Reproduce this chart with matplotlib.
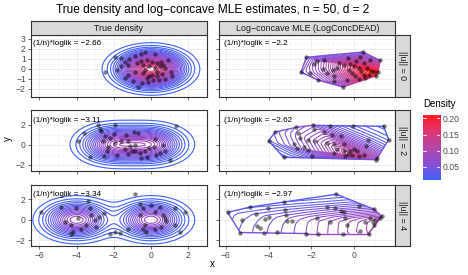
import numpy as np
import matplotlib
matplotlib.use("Agg")
import matplotlib.pyplot as plt
import matplotlib.tri as mtri
from matplotlib.colors import LinearSegmentedColormap, Normalize
from itertools import combinations

plt.rcParams['font.family'] = ['Liberation Sans', 'DejaVu Sans']

# ---- data ----
mu_norms = [0, 2, 4]
row_labels = ['||u|| = 0', '||u|| = 2', '||u|| = 4']
col_titles = ['True density', 'Log\u2212concave MLE (LogConcDEAD)']
loglik_true = ['\u22122.66', '\u22123.11', '\u22123.34']
loglik_mle = ['\u22122.2', '\u22122.62', '\u22122.97']

true_x0 = [-2.46, -1.92, -1.59, -1.63, -1.38, -1.24, -1.16, -0.88, -0.73, -0.52, -0.34, -0.41, -0.23, -0.13, 0.05,
           0.20, 0.23, 0.30, 0.47, 0.56, 0.65, 0.73, 0.91, 1.06, 1.13, 0.59, -0.09, 0.05, 0.30, 0.13, -0.16, -0.48,
           -0.70, -0.95, -1.24, -1.42, -0.43, 0.45, -0.30, -0.88, 0.73, 0.34, -0.56, -0.20, -1.81]
true_y0 = [-0.33, 1.20, 1.13, 0.27, 0.67, 0.37, 1.00, 1.27, 0.60, 1.53, 1.67, 0.40, 0.93, 0.27, 0.73,
           1.47, 0.13, -0.27, 0.27, 0.73, 0.40, 0.07, 0.93, -0.33, -0.67, -0.47, -0.67, -0.60, -0.73, -1.07, -1.33, -1.40,
           -1.80, -1.23, -0.60, -0.93, -0.40, -1.07, -0.07, -0.27, -1.00, 0.60, 0.80, -0.93, -0.13]

mle_x0 = [-2.48, -2.23, -1.89, -1.73, -1.45, -1.42, -0.98, -0.92, -0.72, -0.45, -0.30, -0.17, 0.02, 0.11, 0.22,
          0.30, 0.41, 0.45, 0.61, 0.77, 0.80, 0.69, 0.92, 1.05, 1.23, 1.13, 0.45, 0.33, 0.22, 0.06, -0.09, -0.33,
          -0.52, -0.95, -1.66, -1.27, -2.05, -0.80, 0.53, -0.25]
mle_y0 = [-0.33, 1.17, 0.53, 0.77, 0.00, 0.93, -0.07, -0.67, 0.60, 0.43, 1.10, 0.53, 0.27, 0.77, 0.10,
          1.17, 1.70, 0.60, 0.10, 0.93, -0.23, -0.57, -0.33, -0.67, 0.87, -0.33, -0.57, -0.23, -1.00, -0.73, -0.40, -1.07,
          -1.80, -1.23, -1.13, -0.40, -0.40, 0.10, -0.90, -0.07]

true_x2 = [-3.92, -3.60, -3.30, -2.85, -2.76, -2.67, -2.46, -2.58, -2.31, -2.22, -1.99, -1.92, -1.81, -2.35, -1.42,
           -1.33, -1.24, -1.15, -0.91, -0.70, -1.02, -0.84, -0.59, -0.52, -0.34, -0.20, -0.13, -0.88, -1.24, -1.59,
           0.16, 0.29, 0.47, 0.65, 0.74, 1.00, 1.36, 0.23, -1.95, -2.53]
true_y2 = [0.38, 1.15, -1.28, 1.98, 1.58, 1.32, 0.82, 0.32, -0.28, 0.65, 1.05, 1.98, -1.02, -0.62, -0.42,
           0.98, -0.95, -0.18, 1.25, 1.15, -0.62, -0.68, -0.88, -1.35, -0.62, -1.28, -0.35, -0.08, 0.32, 0.32,
           -0.28, -1.08, -0.85, -0.08, -0.62, -1.52, 1.82, 0.58, 0.15, -1.18]

mle_x2 = [-4.00, -3.69, -3.30, -2.70, -2.64, -2.52, -2.80, -2.67, -2.33, -2.17, -1.92, -1.89, -1.97, -1.81, -1.42,
          -1.11, -1.03, -0.92, -0.95, -0.48, -0.48, -0.44, -0.30, -0.20, -0.09, 0.02, 0.14, 0.22, 0.45, 0.58,
          0.64, 1.08, 1.05, 1.39, 1.63, -0.02, -0.61, -0.80, -1.27, -2.13]
mle_y2 = [0.38, 1.25, -1.28, 1.72, 1.15, 0.65, 0.05, -0.35, -0.28, -0.52, 1.92, 1.58, -1.12, 0.32, 1.25,
          1.82, 0.98, 0.05, -0.85, 0.05, -0.62, -1.18, -0.95, -0.62, -1.08, -0.42, -0.68, -1.18, -1.02, -0.18,
          0.48, -1.35, -1.52, 1.82, 0.48, 1.82, 0.82, -0.42, 0.15, 0.48]

true_x4 = [-5.90, -4.82, -4.28, -4.01, -3.92, -3.39, -3.30, -3.21, -3.48, -3.75, -4.19, -4.28, -2.94, -3.03, -2.81,
           -2.22, -1.92, -1.68, -0.84, -0.61, -0.43, -0.30, -0.25, -0.43, 0.02, 0.23, 0.47, 0.65, 0.74, 0.56,
           0.20, 1.27, 1.27, 1.81, 1.54, -1.24, -4.64, -2.53, 0.82, -0.61]
true_y4 = [0.72, 1.27, -0.52, 1.11, 0.13, 1.83, 1.11, 0.46, -0.52, -0.85, -1.18, -1.34, -0.69, -0.03, 0.29,
           -1.34, -1.18, -1.24, 2.48, 1.50, 1.11, -0.52, -1.18, -0.85, 1.44, 0.78, 1.27, 0.46, 0.13, -0.69,
           -0.85, -0.52, 1.11, 0.78, -1.18, -0.85, -0.20, 0.62, -0.13, 0.46]

mle_x4 = [-5.92, -5.33, -5.25, -4.86, -4.58, -4.52, -4.39, -4.23, -4.16, -4.05, -4.00, -3.61, -3.30, -3.22, -3.17,
          -3.14, -2.91, -2.23, -1.73, -1.66, -1.27, -0.88, -0.83, -0.61, -0.48, -0.41, -0.33, -0.52, -1.11, 0.22,
          0.30, 0.53, 0.69, 0.77, 0.89, 0.95, 1.00, 1.20, 1.31, 0.92]
mle_y4 = [0.72, -1.24, -0.03, 1.24, 0.52, -0.59, -0.78, -1.24, 0.07, 1.11, 0.29, -1.18, 1.70, 0.95, 0.46,
          -0.13, -0.13, -1.34, 0.13, -1.34, 1.24, 1.18, 2.48, 0.85, 0.78, 0.20, -0.52, -1.34, -0.20, 1.37,
          -1.11, -0.26, -1.34, 0.13, -0.26, -0.46, -0.03, 0.13, 0.36, 1.05]

true_pts = [(true_x0, true_y0), (true_x2, true_y2), (true_x4, true_y4)]
mle_pts = [(mle_x0, mle_y0), (mle_x2, mle_y2), (mle_x4, mle_y4)]

levels = np.arange(0.005, 0.4, 0.005)
cmap = LinearSegmentedColormap.from_list(
    'dens', ['#3F64FA', '#8A4FD6', '#B447A8', '#E03572', '#FF1A22'])
norm = Normalize(0.01, 0.21, clip=True)
lev_cols = [cmap(norm(l)) for l in levels]

W, H = 468, 275


def box(x0, y0, x1, y1):
    return [x0 / W, 1 - y1 / H, (x1 - x0) / W, (y1 - y0) / H]


def true_density(X, Y, m):
    phi = lambda a, b: np.exp(-(a ** 2 + b ** 2) / 2) / (2 * np.pi)
    return 0.5 * phi(X, Y) + 0.5 * phi(X + m, Y)


def convex_hull(p):
    p = sorted(map(tuple, p))
    def cross(o, a, b):
        return (a[0] - o[0]) * (b[1] - o[1]) - (a[1] - o[1]) * (b[0] - o[0])
    lower, upper = [], []
    for q in p:
        while len(lower) >= 2 and cross(lower[-2], lower[-1], q) <= 0:
            lower.pop()
        lower.append(q)
    for q in reversed(p):
        while len(upper) >= 2 and cross(upper[-2], upper[-1], q) <= 0:
            upper.pop()
        upper.append(q)
    return lower[:-1] + upper[:-1]


def cr(a, b):
    return a[..., 0] * b[..., 1] - a[..., 1] * b[..., 0]


def logconcave_mle(x, y, iters=450):
    # tent-function MLE: log density is the least concave majorant of heights z
    P = np.column_stack([x, y])
    n = len(x)
    T = np.array(list(combinations(range(n), 3)))
    A, B, C = P[T[:, 0]], P[T[:, 1]], P[T[:, 2]]
    det = cr(B - A, C - A)
    keep = np.abs(det) > 1e-6
    T, A, B, C, det = T[keep], A[keep], B[keep], C[keep], det[keep]
    area = 0.5 * np.abs(det)
    M = P[None, :, :] - A[:, None, :]
    u = cr(M, (C - A)[:, None, :]) / det[:, None]
    v = cr((B - A)[:, None, :], M) / det[:, None]
    lam = np.stack([1 - u - v, u, v], axis=-1)

    N = 5
    q = []
    for i in range(N):
        for j in range(N - i):
            q.append(((i + 1 / 3) / N, (j + 1 / 3) / N))
            if i + j <= N - 2:
                q.append(((i + 2 / 3) / N, (j + 2 / 3) / N))
    q = np.array(q)
    Q = np.column_stack([1 - q.sum(1), q[:, 0], q[:, 1]])

    d2 = ((P[:, None, :] - P[None, :, :]) ** 2).sum(-1)
    h = 0.7
    z = np.log(np.exp(-d2 / (2 * h * h)).mean(1) / (2 * np.pi * h * h))

    def faces(z):
        pm = np.einsum('tmk,tk->tm', lam, z[T])
        up = np.all(z[None, :] <= pm + 1e-9, axis=1)
        return up, pm

    for it in range(iters):
        up, _ = faces(z)
        F, Af = T[up], area[up]
        vals = np.exp(z[F] @ Q.T)
        contrib = Af[:, None] * (vals[:, :, None] * Q[None, :, :]).mean(1)
        mass = np.zeros(n)
        np.add.at(mass, F, contrib)
        eta = 0.3 * (1 - it / iters) + 0.01
        z = z + eta * np.clip(1 - n * mass, -2, 1)
    up, pm = faces(z)
    zbar = pm[up].min(0)
    return T[up], zbar


fig = plt.figure(figsize=(W / 100, H / 100), dpi=100)

col_x = [(30.7, 206.7), (219.3, 395.3)]
row_y = [(35, 96.7), (110, 171), (184.5, 246)]
xlims = [(-6.47, 3.0), (-6.31, 1.94)]
xticks = [[-6, -4, -2, 0, 2], [-6, -4, -2, 0]]
xminor = [[-5, -3, -1, 1], [-5, -3, -1, 1]]
ylims = [(-2.77, 3.4), (-2.65, 3.45), (-2.55, 3.43)]
yticks = [[-2, -1, 0, 1, 2, 3], [-2, 0, 2], [-2, 0, 2]]
ytick_minor = [np.arange(-2.5, 3.5, 1.0), [-1, 1, 3], [-1, 1, 3]]
txt_y = [0.855, 0.82, 0.84]

gx = np.linspace(-6.6, 3.1, 500)
gy = np.linspace(-2.9, 3.5, 300)
GX, GY = np.meshgrid(gx, gy)

for r in range(3):
    for c in range(2):
        x0, x1 = col_x[c]
        y0, y1 = row_y[r]
        ax = fig.add_axes(box(x0, y0, x1, y1))
        ax.set_xlim(*xlims[c])
        ax.set_ylim(*ylims[r])
        ax.set_xticks(xticks[c])
        ax.set_xticks(xminor[c], minor=True)
        ax.set_yticks(yticks[r])
        ax.set_yticks(ytick_minor[r], minor=True)
        ax.grid(True, which='major', color='#EBEBEB', lw=0.6, zorder=0)
        ax.grid(True, which='minor', color='#F3F3F3', lw=0.4, zorder=0)
        ax.set_axisbelow(True)
        for s in ax.spines.values():
            s.set_color('#333333')
            s.set_linewidth(0.8)
        ax.tick_params(which='both', length=0, labelsize=6.2, labelcolor='#4D4D4D', pad=1.5)
        ax.tick_params(which='major', length=2, color='#333333', width=0.5)
        if c == 1:
            ax.tick_params(labelleft=False)
        if r < 2:
            ax.tick_params(labelbottom=False)

        if c == 0:
            F = true_density(GX, GY, mu_norms[r])
            ax.contour(GX, GY, F, levels=levels, colors=lev_cols, linewidths=0.8, zorder=2)
            px, py = true_pts[r]
            ax.text(0.011, txt_y[r], '(1/n)*loglik = ' + loglik_true[r], transform=ax.transAxes,
                    fontsize=5.9, va='center', ha='left', color='black', zorder=5)
        else:
            px, py = mle_pts[r]
            faces, z = logconcave_mle(np.array(px), np.array(py))
            tri = mtri.Triangulation(np.array(px), np.array(py), triangles=faces)
            ax.tricontour(tri, z, levels=np.log(levels), colors=lev_cols, linewidths=0.75, zorder=2)
            hull = convex_hull(np.column_stack([px, py]))
            idx = {(a, b): i for i, (a, b) in enumerate(zip(px, py))}
            for k in range(len(hull)):
                a, b = hull[k], hull[(k + 1) % len(hull)]
                fz = np.exp(0.5 * (z[idx[a]] + z[idx[b]]))
                ax.plot([a[0], b[0]], [a[1], b[1]], color=cmap(norm(fz)), lw=1.0, zorder=3,
                        solid_capstyle='round')
            ax.text(0.028, txt_y[r], '(1/n)*loglik = ' + loglik_mle[r], transform=ax.transAxes,
                    fontsize=5.9, va='center', ha='left', color='black', zorder=5)
        ax.scatter(px, py, s=10, color='black', alpha=0.5, linewidths=0, zorder=4)

# column strips
for c in range(2):
    x0, x1 = col_x[c]
    sa = fig.add_axes(box(x0, 20.7, x1, 35))
    sa.set_facecolor('#D9D9D9')
    sa.set_xticks([]); sa.set_yticks([])
    for s in sa.spines.values():
        s.set_color('#333333'); s.set_linewidth(0.8)
    sa.text(0.5, 0.47, col_titles[c], transform=sa.transAxes, ha='center', va='center',
            fontsize=6.4, color='#1A1A1A')

# row strips
for r in range(3):
    y0, y1 = row_y[r]
    sa = fig.add_axes(box(395.3, y0, 410, y1))
    sa.set_facecolor('#D9D9D9')
    sa.set_xticks([]); sa.set_yticks([])
    for s in sa.spines.values():
        s.set_color('#333333'); s.set_linewidth(0.8)
    sa.text(0.5, 0.5, row_labels[r], transform=sa.transAxes, ha='center', va='center',
            fontsize=6.4, color='#1A1A1A', rotation=-90)

fig.text(213 / W, 1 - 9.5 / H, 'True density and log\u2212concave MLE estimates, n = 50, d = 2',
         ha='center', va='center', fontsize=8.6)
fig.text(212 / W, 1 - 264 / H, 'x', ha='center', va='center', fontsize=7)
fig.text(8 / W, 1 - 139 / H, 'y', ha='center', va='center', fontsize=7, rotation=90)

# colour bar
cb = fig.add_axes(box(422.7, 115, 440, 180))
grad = np.linspace(0.01, 0.21, 256)[:, None]
cb.imshow(grad, aspect='auto', origin='lower', extent=[0, 1, 0.01, 0.21], cmap=cmap, norm=norm)
cb.set_xlim(0, 1)
cb.set_ylim(0.01, 0.21)
cb.set_xticks([])
cb_ticks = [0.05, 0.10, 0.15, 0.20]
cb.set_yticks(cb_ticks)
cb.set_yticklabels(['%.2f' % t for t in cb_ticks])
cb.yaxis.tick_right()
cb.tick_params(length=0, labelsize=6.2, labelcolor='#4D4D4D', pad=2)
for s in cb.spines.values():
    s.set_visible(False)
for t in cb_ticks:
    cb.plot([0, 0.2], [t, t], color='white', lw=0.6)
    cb.plot([0.8, 1], [t, t], color='white', lw=0.6)
fig.text(423 / W, 1 - 104 / H, 'Density', ha='left', va='center', fontsize=7)

fig.savefig('out.png', dpi=100)
